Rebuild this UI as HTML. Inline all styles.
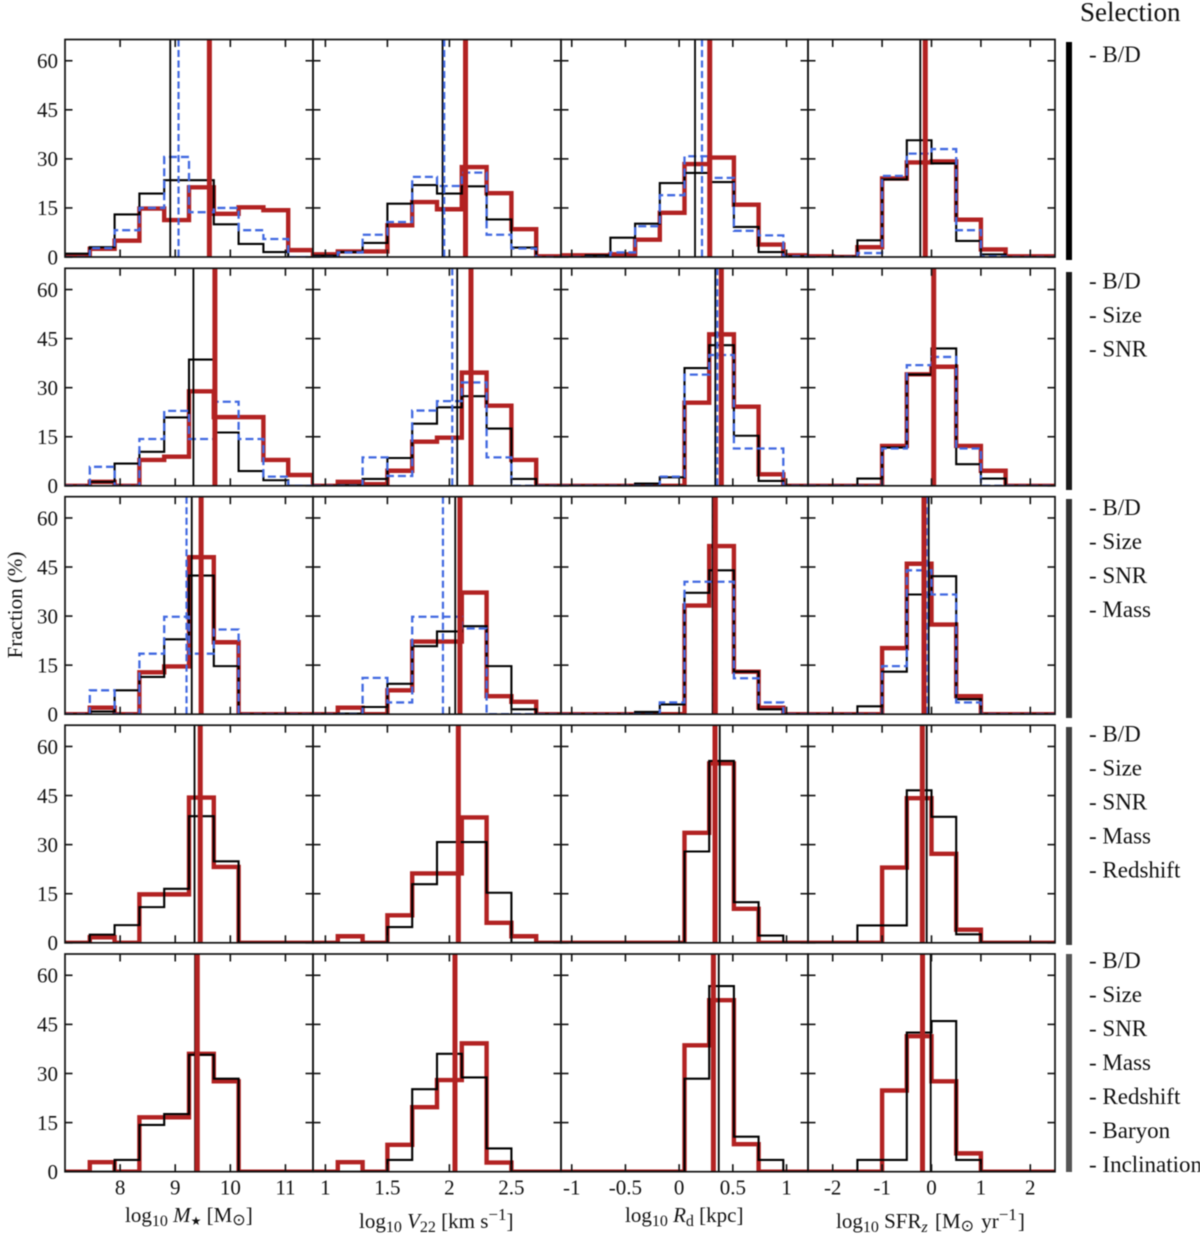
<!DOCTYPE html>
<html lang="en">
<head>
<meta charset="utf-8">
<title>Histogram grid by selection</title>
<style>
html,body{margin:0;padding:0;background:#fff;}
body{width:1200px;height:1249px;overflow:hidden;}
svg{display:block;filter:blur(0.4px);}
text{font-family:"Liberation Serif","DejaVu Serif",serif;fill:#111;}
.sym{font-family:"DejaVu Sans","Liberation Serif",serif;}
</style>
</head>
<body>
<svg id="chart" xmlns="http://www.w3.org/2000/svg" width="1200" height="1249" viewBox="0 0 1200 1249">
  <rect x="0" y="0" width="1200" height="1249" fill="#fff"/>
  <g id="panels"></g>

  <text transform="translate(22,605) rotate(-90)" text-anchor="middle" font-size="21">Fraction (%)</text>

  <text x="125" y="1222" font-size="21">log<tspan font-size="16" dy="4">10</tspan><tspan dy="-4" font-style="italic"> M</tspan><tspan class="sym" font-size="12" dy="3">★</tspan><tspan dy="-3"> [M</tspan><tspan class="sym" font-size="16" dy="3">⊙</tspan><tspan dy="-3">]</tspan></text>
  <text x="359" y="1228" font-size="21">log<tspan font-size="16" dy="4">10</tspan><tspan dy="-4" font-style="italic"> V</tspan><tspan font-size="16" dy="4">22</tspan><tspan dy="-4"> [km s</tspan><tspan font-size="17" dy="-8">−1</tspan><tspan dy="8">]</tspan></text>
  <text x="625" y="1222" font-size="21">log<tspan font-size="16" dy="4">10</tspan><tspan dy="-4" font-style="italic"> R</tspan><tspan font-size="16" dy="4">d</tspan><tspan dy="-4"> [kpc]</tspan></text>
  <text x="836" y="1228" font-size="21">log<tspan font-size="16" dy="4">10</tspan><tspan dy="-4"> SFR</tspan><tspan font-size="16" font-style="italic" dy="4">z</tspan><tspan dy="-4" dx="2"> [M</tspan><tspan class="sym" font-size="16" dy="3">⊙</tspan><tspan dy="-3" dx="2"> yr</tspan><tspan font-size="17" dy="-8">−1</tspan><tspan dy="8" dx="1">]</tspan></text>

  <text x="1080" y="21" font-size="27">Selection</text>

  <rect x="1066" y="42" width="6" height="218" fill="#000"/>
  <rect x="1066" y="272" width="6" height="218" fill="#1a1a1a"/>
  <rect x="1066" y="499" width="6" height="219" fill="#333"/>
  <rect x="1066" y="727" width="6" height="218" fill="#404040"/>
  <rect x="1066" y="954" width="6" height="218" fill="#555"/>

  <g font-size="23">
    <text x="1089" y="62">- B/D</text>
  </g>
  <g font-size="23">
    <text x="1089" y="288.5">- B/D</text>
    <text x="1089" y="322.5">- Size</text>
    <text x="1089" y="356.5">- SNR</text>
  </g>
  <g font-size="23">
    <text x="1089" y="515">- B/D</text>
    <text x="1089" y="549">- Size</text>
    <text x="1089" y="583">- SNR</text>
    <text x="1089" y="617">- Mass</text>
  </g>
  <g font-size="23">
    <text x="1089" y="741.5">- B/D</text>
    <text x="1089" y="775.5">- Size</text>
    <text x="1089" y="809.5">- SNR</text>
    <text x="1089" y="843.5">- Mass</text>
    <text x="1089" y="877.5">- Redshift</text>
  </g>
  <g font-size="23">
    <text x="1089" y="968">- B/D</text>
    <text x="1089" y="1002">- Size</text>
    <text x="1089" y="1036">- SNR</text>
    <text x="1089" y="1070">- Mass</text>
    <text x="1089" y="1104">- Redshift</text>
    <text x="1089" y="1138">- Baryon</text>
    <text x="1089" y="1172">- Inclination</text>
  </g>
</svg>
<script>
// Histogram heights (%), one array per column [mass, velocity, radius, SFR], ten bins each.
const row1Black = [[1,3,13,19.4,23.5,23.5,10,4,1.5,0],[0.4,1.5,4.3,16.3,22,19.4,21.6,11.5,2.9,0],[0,0.5,5.9,10.2,22.6,25.7,22.9,9.2,1.5,0.2],[0,0.1,5.1,23.7,35.7,28.6,4.9,0.8,0,0]];
const row1Red = [[0.3,2.5,5,14.8,11.3,21.3,13.2,15.2,14.3,2.1],[0.8,1.7,1.7,9.7,16.8,14.6,27.5,19.5,8.5,0.2],[0.5,0.5,0.8,5.3,13.5,28.4,30.4,16,3.8,0.5],[0.2,0,3,24,28.9,29.2,11.4,2.3,0.2,0.2]];
const row1Blue = [[0,2.7,8.2,15,30.6,13.7,15,8.2,5.5,0],[0,1.4,6.8,10.7,24.5,21.7,25.8,6.8,2.6,0],[0,0,1.4,9.4,18.9,30.8,24.2,8,6.6,0.2],[0,0,1.2,24.8,31.6,33,8.2,0.2,0,0]];

const row2Black = [[0,1.2,6.8,10.4,20.9,38.6,16.3,4.5,1.7,0],[0,0.2,2.1,8.5,19,24,27.4,17.5,2.1,0],[0,0,0,0.7,2.6,36,43,15.3,1.5,0],[0,0,2.2,11.7,34,42,6.6,2.2,0,0]];
const row2Red = [[0,1.2,0,7.9,8.9,28.9,21,21,7.9,3.3],[0,1.2,0.5,4.6,13.5,14.7,34.6,24.5,7.9,0],[0,0,0,0,0,25.4,46.3,24.2,3.5,0],[0,0,0,12.2,34.1,36.4,12.2,4.6,0,0]];
const row2Blue = [[0,5.8,0,14.3,22.9,14.3,25.7,14.3,2.8,0],[0,0,8.7,3,23,25.9,31.6,8.7,0,0],[0,0,0,0,2.8,34,40,11.4,11.4,0],[0,0,0,11.4,36.9,39.4,11.4,0,0,0]];

const row3Black = [[0,0.8,7.3,11.4,22.9,42.4,14.7,0,0,0],[0,0.2,2.2,9.3,20.8,25.3,26.9,14.7,1.5,0],[0,0,0,0.7,3,37.1,44,13,1.5,0],[0,0,2.4,13,36.6,42.2,4.6,0,0,0]];
const row3Red = [[0,2,0,12.8,14.6,48,22,0,0,0],[0,2,0,7.3,22.2,22.2,37.2,5.5,3.8,0],[0,0,0,0,0,33.2,51.4,13,2,0],[0,0,0,20.2,46,27.4,5.5,0,0,0]];
const row3Blue = [[0,7.3,0,18.5,29.8,18.5,25.9,0,0,0],[0,0,11.1,3.6,29.8,29.8,26.2,0,0,0],[0,0,0,0,3.6,40.5,40.5,11,3.6,0],[0,0,0,14.7,44,36.6,3.6,0,0,0]];

const row4Black = [[0,2.5,5.4,10.9,16.5,38.7,24.9,0,0,0],[0,0,0,4.8,17.9,30.8,30.8,15.3,0,0],[0,0,0,0,0,27.9,55.6,12.4,2.2,0],[0,0,5.3,5.3,46.6,38.5,2.6,0,0,0]];
const row4Red = [[0,1.7,0,14.8,14.8,44.4,23.2,0,0,0],[0,2,0,8.4,21.2,21.2,38.3,6.1,2,0],[0,0,0,0,0,33.6,54.8,10.4,0,0],[0,0,0,23,44.2,27.2,4,0,0,0]];

const row5Black = [[0,0,3.6,14.3,17.6,35.7,28.4,0,0,0],[0,0,0,3.6,25.2,36,28.8,7.1,0,0],[0,0,0,0,0,28.4,56.7,10.7,3.6,0],[0,0,3.6,3.6,42.5,46,3.6,0,0,0]];
const row5Red = [[0,2.9,0,16.6,16.6,36,27.6,0,0,0],[0,2.9,0,8.2,19.7,28,39.2,2.8,0,0],[0,0,0,0,0,38.6,52.4,8.4,0,0],[0,0,0,24.8,41.4,27.6,5.6,0,0,0]];

// Median values per row, one per column, in data units.
const row1BlackMedians = [8.91,1.945,0.148,-0.227];
const row1RedMedians = [9.62,2.13,0.285,-0.126];
const row1BlueMedians = [9.06,1.958,0.213,-0.126];
const row2BlackMedians = [9.33,2.063,0.337,0.03];
const row2RedMedians = [9.72,2.174,0.393,0.045];
const row2BlueMedians = [9.72,2.023,0.355,0.045];
const row3BlackMedians = [9.30,2.047,0.312,-0.057];
const row3RedMedians = [9.47,2.085,0.337,-0.152];
const row3BlueMedians = [9.205,1.948,0.325,-0.097];
const row4BlackMedians = [9.35,2.07,0.378,-0.097];
const row4RedMedians = [9.454,2.072,0.334,-0.186];
const row5BlackMedians = [9.36,2.045,0.369,-0.016];
const row5RedMedians = [9.40,2.045,0.319,-0.182];

// Axis ticks and limits.
const xLimits = [[7,11.5],[0.9,2.9],[-1.1,1.2],[-2.5,2.5]];
const xTickValues = [[8,9,10,11],[1,1.5,2,2.5],[-1,-0.5,0,0.5,1],[-2,-1,0,1,2]];
const xTickLabels = [['8','9','10','11'],['1','1.5','2','2.5'],['-1','-0.5','0','0.5','1'],['-2','-1','0','1','2']];
const yTickValues = [0,15,30,45,60];
const yTickLabels = ['0','15','30','45','60'];
const yMax = 66.5;

const blackRows = [row1Black,row2Black,row3Black,row4Black,row5Black];
const redRows = [row1Red,row2Red,row3Red,row4Red,row5Red];
const blueRows = [row1Blue,row2Blue,row3Blue,null,null];
const blackMedianRows = [row1BlackMedians,row2BlackMedians,row3BlackMedians,row4BlackMedians,row5BlackMedians];
const redMedianRows = [row1RedMedians,row2RedMedians,row3RedMedians,row4RedMedians,row5RedMedians];
const blueMedianRows = [row1BlueMedians,row2BlueMedians,row3BlueMedians,null,null];
const columnNames = ['mass','velocity','radius','sfr'];

const NS = 'http://www.w3.org/2000/svg';
const panelsRoot = document.getElementById('panels');
const colEdges = [65,313,561,808,1055];
const rowBoxes = [[39.5,257],[268.3,485.8],[496.7,714.2],[725.2,942.8],[954,1171.7]];
const INK = '#111';
const RED = '#b22222';
const BLUE = '#4169e1';

function make(tag, attrs, parent){
  const node = document.createElementNS(NS, tag);
  for (const key in attrs) node.setAttribute(key, attrs[key]);
  parent.appendChild(node);
  return node;
}
function xScale(col, v){
  const lim = xLimits[col];
  return colEdges[col] + (v - lim[0]) / (lim[1] - lim[0]) * (colEdges[col+1] - colEdges[col]);
}
function yScale(row, v){
  const box = rowBoxes[row];
  return box[1] - v / yMax * (box[1] - box[0]);
}
function stepPath(row, col, values){
  const lim = xLimits[col];
  const width = (lim[1] - lim[0]) / values.length;
  let d = 'M' + xScale(col, lim[0]).toFixed(2) + ' ' + yScale(row, 0).toFixed(2);
  values.forEach(function(v, i){
    const y = yScale(row, v).toFixed(2);
    d += 'L' + xScale(col, lim[0] + i * width).toFixed(2) + ' ' + y;
    d += 'L' + xScale(col, lim[0] + (i + 1) * width).toFixed(2) + ' ' + y;
  });
  d += 'L' + xScale(col, lim[1]).toFixed(2) + ' ' + yScale(row, 0).toFixed(2);
  return d;
}
function drawHist(group, row, col, values, stroke, width, dash, name){
  if (!values) return;
  const attrs = {d: stepPath(row, col, values), fill: 'none', stroke: stroke, 'stroke-width': width, 'stroke-linejoin': 'miter'};
  if (dash) attrs['stroke-dasharray'] = dash;
  const path = make('path', attrs, group);
  
  
}
function drawMedian(group, row, col, value, stroke, width, dash, name){
  if (value === undefined) return;
  const x = xScale(col, value);
  const attrs = {x1: x, x2: x, y1: rowBoxes[row][0], y2: rowBoxes[row][1], stroke: stroke, 'stroke-width': width};
  if (dash) attrs['stroke-dasharray'] = dash;
  const line = make('line', attrs, group);
  
  
}

rowBoxes.forEach(function(box, row){
  colEdges.slice(0, 4).forEach(function(left, col){
    const right = colEdges[col + 1];
    const panel = make('g', {}, panelsRoot);
    
    

    const clipId = 'clip-' + row + '-' + col;
    const clip = make('clipPath', {id: clipId}, panel);
    make('rect', {x: left, y: box[0], width: right - left, height: box[1] - box[0]}, clip);
    const marks = make('g', {'clip-path': 'url(#' + clipId + ')'}, panel);
    
    

    drawHist(marks, row, col, redRows[row][col], RED, 4.4, null, 'red-histogram');
    drawHist(marks, row, col, blackRows[row][col], '#000', 2.1, null, 'black-histogram');
    drawHist(marks, row, col, blueRows[row] ? blueRows[row][col] : null, BLUE, 2.3, '8 4', 'blue-histogram');
    drawMedian(marks, row, col, blackMedianRows[row][col], '#000', 1.8, null, 'black-median-line');
    drawMedian(marks, row, col, blueMedianRows[row] ? blueMedianRows[row][col] : undefined, BLUE, 2.2, '7 3.5', 'blue-median-line');
    drawMedian(marks, row, col, redMedianRows[row][col], RED, 5, null, 'red-median-line');

    const frame = make('rect', {x: left, y: box[0], width: right - left, height: box[1] - box[0], fill: 'none', stroke: INK, 'stroke-width': 1.7}, panel);
    
    

    xTickValues[col].forEach(function(v, i){
      const x = xScale(col, v);
      const bottomTick = make('line', {x1: x, x2: x, y1: box[1], y2: box[1] - 7.5, stroke: INK, 'stroke-width': 1.6}, panel);
      
      
      const topTick = make('line', {x1: x, x2: x, y1: box[0], y2: box[0] + 7.5, stroke: INK, 'stroke-width': 1.6}, panel);
      
      
      if (row === rowBoxes.length - 1) {
        const label = make('text', {x: x, y: 1194.5, 'text-anchor': 'middle', 'font-size': 21}, panel);
        label.textContent = xTickLabels[col][i];
        
        
      }
    });
    yTickValues.forEach(function(v, i){
      const y = yScale(row, v);
      const leftTick = make('line', {x1: left, x2: left + 7.5, y1: y, y2: y, stroke: INK, 'stroke-width': 1.6}, panel);
      
      
      const rightTick = make('line', {x1: right, x2: right - 7.5, y1: y, y2: y, stroke: INK, 'stroke-width': 1.6}, panel);
      
      
      if (col === 0) {
        const label = make('text', {x: 58, y: y + 7.3, 'text-anchor': 'end', 'font-size': 21}, panel);
        label.textContent = yTickLabels[i];
        
        
      }
    });
  });
});
</script>
</body>
</html>
